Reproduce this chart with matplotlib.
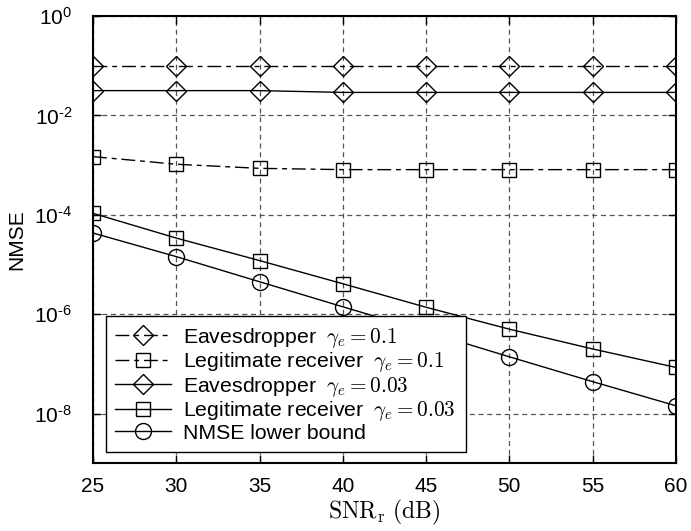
import matplotlib
matplotlib.use("Agg")
import matplotlib.pyplot as plt
import numpy as np

plt.rcParams['font.family'] = ['Liberation Sans', 'DejaVu Sans']
plt.rcParams['mathtext.fontset'] = 'cm'
plt.rcParams['mathtext.rm'] = 'Liberation Sans'
plt.rcParams['mathtext.sf'] = 'Liberation Sans'
plt.rcParams['mathtext.it'] = 'Liberation Sans:italic'
plt.rcParams['mathtext.bf'] = 'Liberation Sans:bold'

snr = [25, 30, 35, 40, 45, 50, 55, 60]
eve_01 = [0.099, 0.099, 0.099, 0.099, 0.099, 0.099, 0.099, 0.099]
legit_01 = [1.48e-3, 1.04e-3, 8.6e-4, 8.1e-4, 8.1e-4, 8.1e-4, 8.1e-4, 8.1e-4]
eve_003 = [0.0315, 0.0315, 0.0315, 0.029, 0.029, 0.029, 0.029, 0.029]
legit_003 = [1.07e-4, 3.4e-5, 1.2e-5, 4.1e-6, 1.38e-6, 5.0e-7, 2.0e-7, 8.5e-8]
bound = [4.3e-5, 1.44e-5, 4.5e-6, 1.41e-6, 4.5e-7, 1.39e-7, 4.4e-8, 1.44e-8]

labels = [r'Eavesdropper  $\gamma_e = 0.1$',
          r'Legitimate receiver  $\gamma_e = 0.1$',
          r'Eavesdropper  $\gamma_e = 0.03$',
          r'Legitimate receiver  $\gamma_e = 0.03$',
          'NMSE lower bound']

xticks = [25, 30, 35, 40, 45, 50, 55, 60]
yticks = [1e0, 1e-2, 1e-4, 1e-6, 1e-8]
ytick_labels = [r'$10^{0}$', r'$10^{\text{-}2}$', r'$10^{\text{-}4}$',
                r'$10^{\text{-}6}$', r'$10^{\text{-}8}$']

fig = plt.figure(figsize=(6.91, 5.31), dpi=100)
ax = fig.add_axes([0.1346, 0.1275, 0.8434, 0.8424])

dashdot = (0, (10, 3.5, 3.5, 3.5))
common = dict(color='black', linewidth=1.0, markerfacecolor='none',
              markeredgecolor='black', markeredgewidth=1.0)
ax.plot(snr, eve_01, linestyle=dashdot, marker='D', markersize=10.5, label=labels[0], **common)
ax.plot(snr, legit_01, linestyle=dashdot, marker='s', markersize=10, label=labels[1], **common)
ax.plot(snr, eve_003, linestyle='-', marker='D', markersize=10.5, label=labels[2], **common)
ax.plot(snr, legit_003, linestyle='-', marker='s', markersize=10, label=labels[3], **common)
ax.plot(snr, bound, linestyle='-', marker='o', markersize=11.5, label=labels[4], **common)

ax.set_yscale('log')
ax.set_xlim(25, 60)
ax.set_ylim(1e-9, 1e0)
ax.set_xticks(xticks)
ax.set_xticklabels([str(v) for v in xticks])
ax.set_yticks(yticks)
ax.set_yticklabels(ytick_labels)
for t in ax.get_yticklabels():
    t.set_math_fontfamily('custom')
ax.yaxis.set_minor_locator(matplotlib.ticker.NullLocator())
ax.tick_params(direction='in', labelsize=15, length=6, width=1.0, top=True, right=True)
ax.tick_params(axis='x', pad=10)
ax.tick_params(axis='y', pad=15)

ax.grid(True, which='major', linestyle=(0, (4, 3)), color='#555555', linewidth=0.9)
for s in ax.spines.values():
    s.set_linewidth(1.5)

ax.set_xlabel(r'$\mathrm{SNR}_{\mathrm{r}}\ \mathrm{(dB)}$', fontsize=17, labelpad=1,
              math_fontfamily='cm')
ax.set_ylabel('NMSE', fontsize=15, labelpad=6)

leg = ax.legend(loc='lower left', bbox_to_anchor=(0.022, 0.025), borderaxespad=0,
                fontsize=15.3, fancybox=False, framealpha=1, edgecolor='black',
                handlelength=2.6, handletextpad=0.6, labelspacing=0.02,
                borderpad=0.45)
leg.get_frame().set_linewidth(1.0)
for t in leg.get_texts():
    t.set_math_fontfamily('cm')
    t.set_text(t.get_text().replace('  $', r' $\;'))

fig.savefig('out.png', dpi=100)
